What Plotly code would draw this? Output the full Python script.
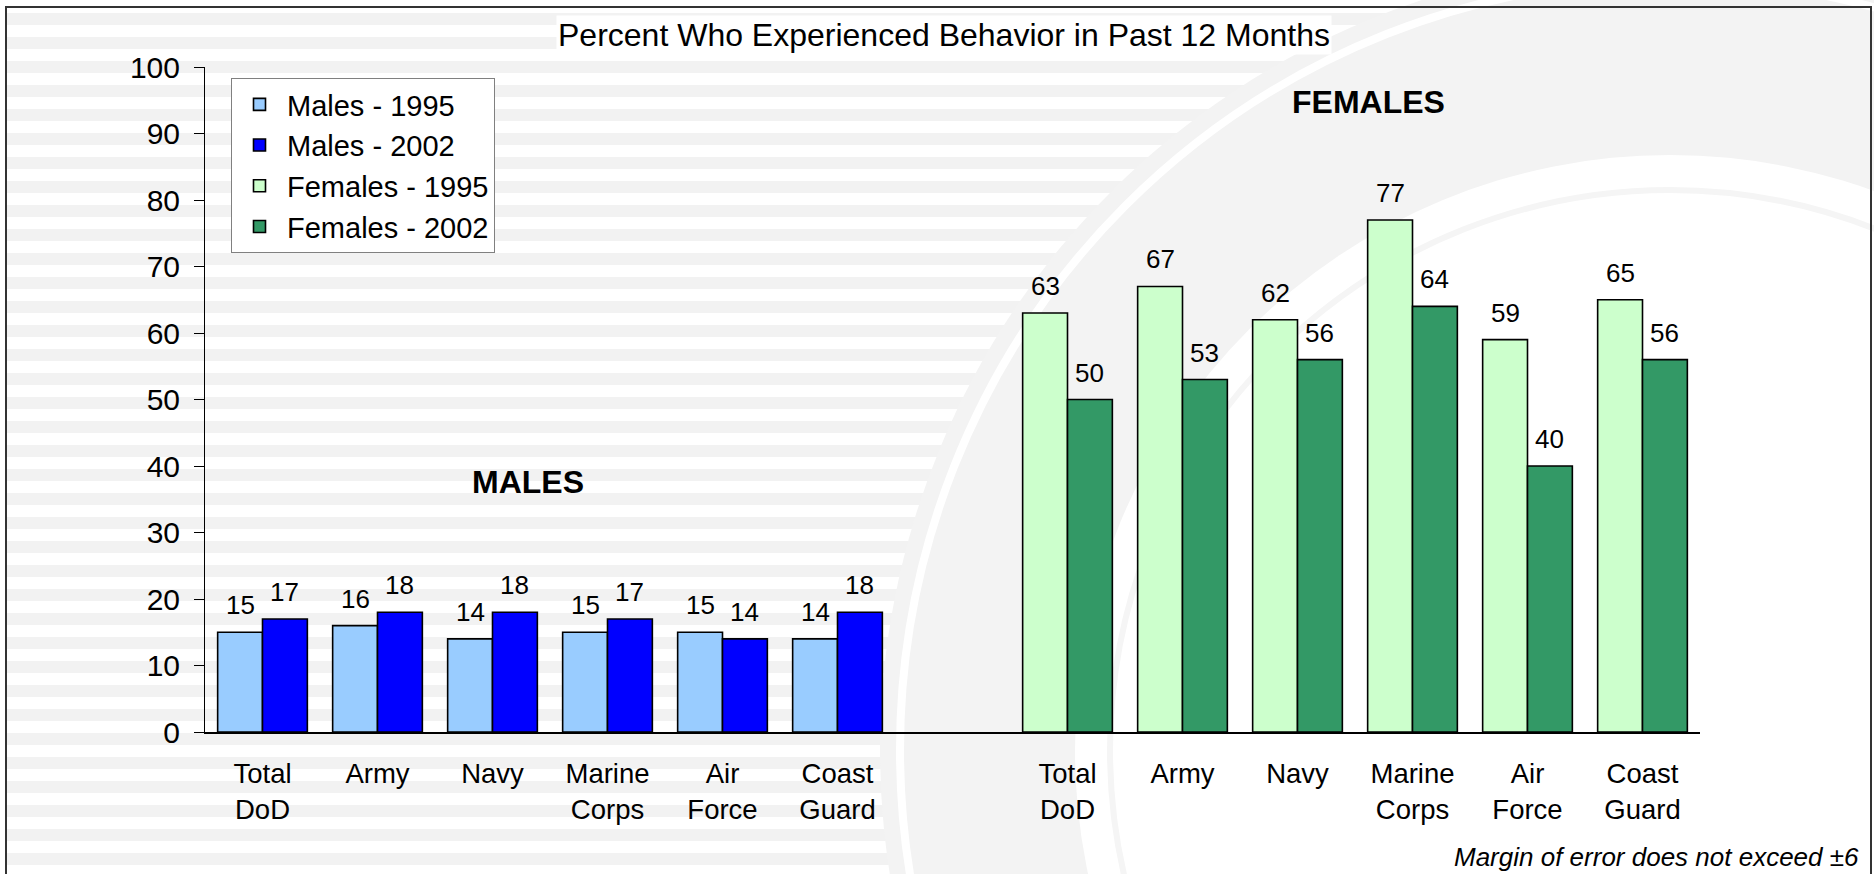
import plotly.graph_objects as go

# ---------------- data ----------------
categories = ["Total<br>DoD", "Army", "Navy", "Marine<br>Corps", "Air<br>Force", "Coast<br>Guard"]
males_1995 = [15, 16, 14, 15, 15, 14]
males_2002 = [17, 18, 18, 17, 14, 18]
females_1995 = [63, 67, 62, 77, 59, 65]
females_2002 = [50, 53, 56, 64, 40, 56]
y_ticks = list(range(0, 101, 10))
series_names = ["Males - 1995", "Males - 2002", "Females - 1995", "Females - 2002"]

male_pos = list(range(len(categories)))
female_pos = [p + len(categories) + 1 for p in male_pos]

# ---------------- layout geometry ----------------
W, H = 1874, 874
ML, MR, MT, MB = 205, 174, 67, 142
PW = W - ML - MR
PH = H - MT - MB


def px(x):
    return (x - ML) / PW


def py(y):
    return (H - MB - y) / PH


FONT = "Liberation Sans, Arial, sans-serif"
BW = 0.39
colors = ["#99ccff", "#0000ff", "#ccffcc", "#339966"]

fig = go.Figure()
series = [
    (series_names[0], male_pos, males_1995, colors[0], -BW),
    (series_names[1], male_pos, males_2002, colors[1], 0.0),
    (series_names[2], female_pos, females_1995, colors[2], -BW),
    (series_names[3], female_pos, females_2002, colors[3], 0.0),
]
annotations = []
for name, xs, ys, col, off in series:
    fig.add_trace(go.Bar(
        name=name, x=xs, y=ys, width=BW, offset=off,
        marker=dict(color=col, line=dict(color="black", width=1.6)),
        legendgroup=name, hoverinfo="x+y",
    ))
    for x, v in zip(xs, ys):
        annotations.append(dict(
            x=x + off + BW / 2, y=v, xref="x", yref="y", text=str(v),
            showarrow=False, yanchor="bottom", yshift=10,
            font=dict(family=FONT, size=26, color="black"),
        ))

# ---------------- background decoration ----------------
shapes = []
k = 0
while 13 + 24 * k < H:
    y0 = 13 + 24 * k
    shapes.append(dict(type="rect", xref="paper", yref="paper",
                       x0=px(6), x1=px(1871), y0=py(y0), y1=py(y0 + 12),
                       fillcolor="#f2f2f2", line=dict(width=0), layer="below"))
    k += 1

cx, cy = 1670, 750


def circ(r, fill, line_color=None, lw=0):
    return dict(type="circle", xref="paper", yref="paper",
                x0=px(cx - r), x1=px(cx + r), y0=py(cy + r), y1=py(cy - r),
                fillcolor=fill,
                line=dict(color=line_color or "rgba(0,0,0,0)", width=lw),
                layer="below")


shapes.append(circ(790, "#f3f3f3"))
shapes.append(circ(770, "rgba(0,0,0,0)", "white", 8))
shapes.append(circ(595, "white"))
shapes.append(circ(560, "rgba(0,0,0,0)", "#f5f5f5", 6))

shapes.append(dict(type="rect", xref="paper", yref="paper",
                   x0=px(6), x1=px(1871), y0=py(880), y1=py(7),
                   fillcolor="rgba(0,0,0,0)", line=dict(color="#333333", width=2),
                   layer="below"))

annotations += [
    dict(x=px(943.5), y=py(35), xref="paper", yref="paper", showarrow=False,
         text="Percent Who Experienced Behavior in Past 12 Months",
         font=dict(family=FONT, size=32, color="black"), bgcolor="white",
         xanchor="center", yanchor="middle"),
    dict(x=px(528), y=py(482), xref="paper", yref="paper", showarrow=False,
         text="<b>MALES</b>", font=dict(family=FONT, size=32, color="black"),
         xanchor="center", yanchor="middle"),
    dict(x=px(1368), y=py(102), xref="paper", yref="paper", showarrow=False,
         text="<b>FEMALES</b>", font=dict(family=FONT, size=32, color="black"),
         xanchor="center", yanchor="middle"),
    dict(x=px(1861), y=py(857), xref="paper", yref="paper", showarrow=False,
         text="<i>Margin of error does not exceed ±6</i>",
         font=dict(family=FONT, size=26, color="black"),
         xanchor="right", yanchor="middle"),
]

fig.update_layout(
    width=W, height=H,
    margin=dict(l=ML, r=MR, t=MT, b=MB, pad=0),
    paper_bgcolor="white", plot_bgcolor="rgba(0,0,0,0)",
    barmode="overlay",
    font=dict(family=FONT, color="black"),
    shapes=shapes, annotations=annotations,
    showlegend=True,
    legend=dict(x=px(231), y=py(78), xanchor="left", yanchor="top",
                bgcolor="white", bordercolor="#808080", borderwidth=1,
                font=dict(family=FONT, size=29, color="black"),
                tracegroupgap=12, traceorder="normal", itemwidth=45),
    xaxis=dict(range=[-0.5, 12.5], tickvals=male_pos + female_pos,
               ticktext=categories + categories, showgrid=False, zeroline=False,
               showline=True, linecolor="black", linewidth=1.5, ticks="",
               tickfont=dict(family=FONT, size=27.5, color="black"),
               ticklabelstandoff=16, fixedrange=True),
    yaxis=dict(range=[0, 100], tickvals=y_ticks, showgrid=False, zeroline=False,
               showline=True, linecolor="black", linewidth=1, ticks="outside",
               ticklen=10, tickcolor="black", tickwidth=1,
               tickfont=dict(family=FONT, size=30, color="black"),
               ticklabelstandoff=8, fixedrange=True),
)

fig.write_html("out.html", config={"displayModeBar": False},
               post_script="document.body.style.margin='0px';")
